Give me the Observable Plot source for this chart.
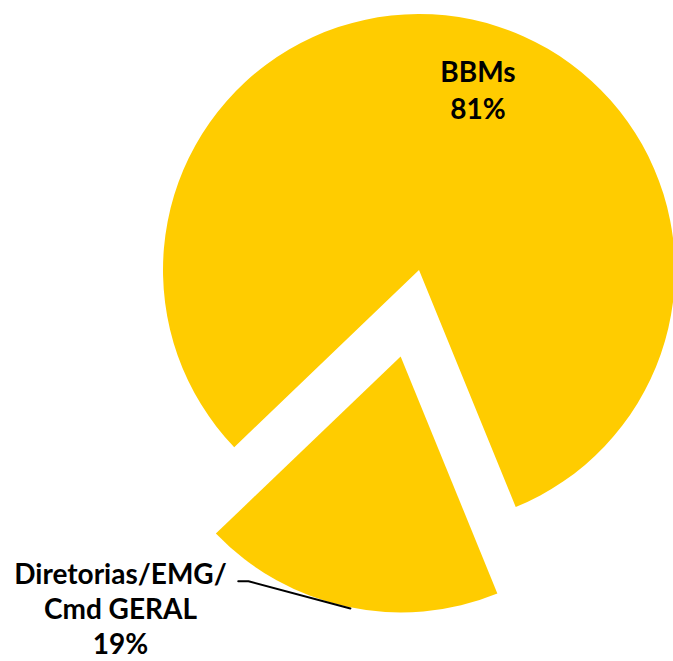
<!DOCTYPE html>
<html>
<head>
<meta charset="utf-8">
<script src="https://cdn.jsdelivr.net/npm/d3@7"></script>
<script src="https://cdn.jsdelivr.net/npm/@observablehq/plot@0.6"></script>
<style>
  html, body { margin: 0; padding: 0; background: #ffffff; }
</style>
</head>
<body>
<div id="chart"></div>
<script>
// ---- data ----
const categories = ["Diretorias/EMG/\nCmd GERAL", "BBMs"];
const shares = [19, 81];
const percentLabels = ["19%", "81%"];

// ---- layout options (unit-circle coordinates, radius = 1) ----
const sliceColor = "#FFCC00";
const startDeg = 157.8;          // first slice starts here (clockwise from 12 o'clock)
const explode = [0.345, 0];      // radial pull-out per slice, in radii
const labelPos = [[-1.168, -1.316], [0.2285, 0.712]];
const labelLineHeight = [1.25, 1.33];
const leader = [[-0.708, -1.214], [-0.668, -1.214], [-0.27, -1.32]];

const W = 673, H = 661, R = 256, CX = 419, CY = 270;

const slices = d3.pie().sort(null).value(d => d.value)
  .startAngle(startDeg * Math.PI / 180)
  .endAngle(startDeg * Math.PI / 180 + 2 * Math.PI)(
    categories.map((c, i) => ({category: c, value: shares[i], pct: percentLabels[i], i}))
  );

const labels = slices.map((s, i) => ({
  text: s.data.category + "\n" + s.data.pct,
  x: labelPos[i][0],
  y: labelPos[i][1]
}));

function pieMark(index, scales) {
  const x = scales.x, y = scales.y;
  const r = x(1) - x(0);
  const arc = d3.arc().innerRadius(0).outerRadius(r);
  const g = d3.create("svg:g");
  for (const s of slices) {
    const mid = (s.startAngle + s.endAngle) / 2;
    const e = explode[s.index];
    const cx = x(Math.sin(mid) * e), cy = y(Math.cos(mid) * e);
    g.append("path")
      .attr("d", arc(s))
      .attr("transform", `translate(${cx},${cy})`)
      .attr("fill", sliceColor);
  }
  return g.node();
}

const textOpts = {
  x: "x", y: "y", text: "text",
  fontSize: 28, fontWeight: "bold", fontFamily: "Lato",
  lineAnchor: "middle", fill: "#000000"
};

const chart = Plot.plot({
  width: W,
  height: H,
  margin: 0,
  x: {domain: [-CX / R, (W - CX) / R], range: [0, W], axis: null},
  y: {domain: [-(H - CY) / R, CY / R], range: [H, 0], axis: null},
  style: {background: "#ffffff"},
  marks: [
    pieMark,
    Plot.line(leader, {x: d => d[0], y: d => d[1], stroke: "#000000", strokeWidth: 2}),
    Plot.text([labels[0]], {...textOpts, lineHeight: labelLineHeight[0]}),
    Plot.text([labels[1]], {...textOpts, lineHeight: labelLineHeight[1]})
  ]
});

document.getElementById("chart").appendChild(chart);
</script>
</body>
</html>
